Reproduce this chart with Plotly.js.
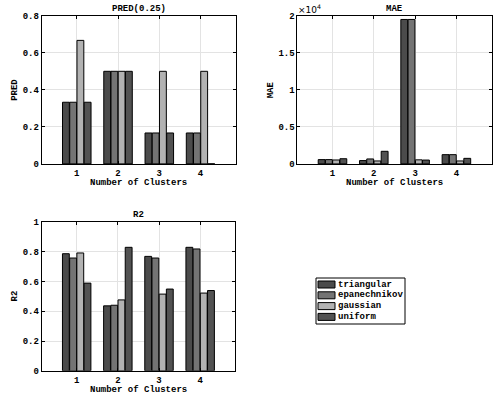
<!DOCTYPE html>
<html>
<head>
<meta charset="utf-8">
<script src="https://cdn.plot.ly/plotly-3.0.1.min.js"></script>
<style>html,body{margin:0;padding:0;background:#fff}#chart{width:494px;height:394px}</style>
</head>
<body>
<div id="chart"></div>
<script>
const clusters = [1, 2, 3, 4];
const seriesNames = ['triangular', 'epanechnikov', 'gaussian', 'uniform'];
const seriesColors = ['#4b4b4b', '#747474', '#b2b2b2', '#525252'];

const predTriangular = [0.333, 0.5, 0.167, 0.167];
const predEpanechnikov = [0.333, 0.5, 0.167, 0.167];
const predGaussian = [0.667, 0.5, 0.5, 0.5];
const predUniform = [0.333, 0.5, 0.167, 0];

const maeTriangular = [580, 450, 19500, 1250];
const maeEpanechnikov = [580, 670, 19500, 1250];
const maeGaussian = [530, 400, 550, 400];
const maeUniform = [700, 1700, 520, 750];

const r2Triangular = [0.788, 0.437, 0.770, 0.831];
const r2Epanechnikov = [0.759, 0.441, 0.759, 0.820];
const r2Gaussian = [0.793, 0.477, 0.516, 0.523];
const r2Uniform = [0.590, 0.831, 0.550, 0.540];

const xTicks = ['1', '2', '3', '4'];
const predTicks = [0, 0.2, 0.4, 0.6, 0.8];
const predTickText = ['0', '0.2', '0.4', '0.6', '0.8'];
const maeTicks = [0, 5000, 10000, 15000, 20000];
const maeTickText = ['0', '0.5', '1', '1.5', '2'];
const r2Ticks = [0, 0.2, 0.4, 0.6, 0.8, 1];
const r2TickText = ['0', '0.2', '0.4', '0.6', '0.8', '1'];

const FONT = 'Liberation Mono';
const FS = 9;

const predSeries = [predTriangular, predEpanechnikov, predGaussian, predUniform];
const maeSeries = [maeTriangular, maeEpanechnikov, maeGaussian, maeUniform];
const r2Series = [r2Triangular, r2Epanechnikov, r2Gaussian, r2Uniform];

const traces = [];
function addGroup(series, xa, ya) {
  series.forEach((vals, i) => {
    traces.push({
      type: 'bar', x: clusters, y: vals, name: seriesNames[i],
      xaxis: xa, yaxis: ya, showlegend: false,
      marker: {color: seriesColors[i], line: {color: '#000', width: 1}},
      hoverinfo: 'skip'
    });
  });
}
addGroup(predSeries, 'x', 'y');
addGroup(maeSeries, 'x2', 'y2');
addGroup(r2Series, 'x3', 'y3');

const tickFont = {family: FONT, size: FS, color: '#000', weight: 'bold'};
function xAxis(domain, anchor) {
  return {
    domain: domain, anchor: anchor, range: [0.15, 4.85],
    tickvals: clusters, ticktext: xTicks,
    ticks: 'inside', ticklen: 3, tickcolor: '#000', mirror: 'ticks',
    showline: true, linecolor: '#000', linewidth: 1,
    showgrid: true, gridcolor: '#e3e3e3', zeroline: false,
    tickfont: tickFont
  };
}
function yAxis(domain, anchor, range, tv, tt) {
  return {
    domain: domain, anchor: anchor, range: range,
    tickvals: tv, ticktext: tt,
    ticks: 'inside', ticklen: 3, tickcolor: '#000', mirror: 'ticks',
    showline: true, linecolor: '#000', linewidth: 1,
    showgrid: true, gridcolor: '#e3e3e3', zeroline: false,
    tickfont: tickFont
  };
}

const D1x = [0.0844, 0.477], D2x = [0.602, 0.995], D3x = [0.0844, 0.476];
const Dtop = [0.584, 0.960], Dbot = [0.059, 0.436];

function txt(text, x, y, opts) {
  return Object.assign({text: text, xref: 'paper', yref: 'paper', x: x, y: y,
    showarrow: false, font: {family: FONT, size: FS, color: '#000', weight: 'bold'}}, opts || {});
}
const W = 494, H = 394;
const px = v => v / W, py = v => 1 - v / H;

const annotations = [
  txt('PRED(0.25)', (D1x[0] + D1x[1]) / 2, Dtop[1], {xanchor: 'center', yanchor: 'bottom'}),
  txt('MAE', (D2x[0] + D2x[1]) / 2, Dtop[1], {xanchor: 'center', yanchor: 'bottom'}),
  txt('R2', (D3x[0] + D3x[1]) / 2, Dbot[1], {xanchor: 'center', yanchor: 'bottom'}),
  txt('×10<sup>4</sup>', D2x[0] - 0.002, Dtop[1] - 0.004, {xanchor: 'left', yanchor: 'bottom', font: {family: 'DejaVu Sans', size: 9, color: '#000'}}),
  txt('Number of Clusters', (D1x[0] + D1x[1]) / 2, py(183), {xanchor: 'center', yanchor: 'middle'}),
  txt('Number of Clusters', (D2x[0] + D2x[1]) / 2, py(183), {xanchor: 'center', yanchor: 'middle'}),
  txt('Number of Clusters', (D3x[0] + D3x[1]) / 2, py(390), {xanchor: 'center', yanchor: 'middle'}),
  txt('PRED', px(15), (Dtop[0] + Dtop[1]) / 2, {xanchor: 'center', yanchor: 'middle', textangle: -90}),
  txt('MAE', px(270.5), (Dtop[0] + Dtop[1]) / 2, {xanchor: 'center', yanchor: 'middle', textangle: -90}),
  txt('R2', px(15), (Dbot[0] + Dbot[1]) / 2, {xanchor: 'center', yanchor: 'middle', textangle: -90})
];

const shapes = [
  {type: 'rect', xref: 'paper', yref: 'paper', x0: px(316), x1: px(405), y0: py(324), y1: py(278),
   line: {color: '#000', width: 1}, fillcolor: '#fff', layer: 'above'}
];
const rowY = [284.5, 295.3, 306.1, 316.9];
seriesNames.forEach((name, i) => {
  shapes.push({type: 'rect', xref: 'paper', yref: 'paper', x0: px(318), x1: px(335),
    y0: py(rowY[i] + 3.5), y1: py(rowY[i] - 3.5),
    line: {color: '#000', width: 1}, fillcolor: seriesColors[i], layer: 'above'});
  annotations.push(txt(name, px(336), py(rowY[i]), {xanchor: 'left', yanchor: 'middle'}));
});

const layout = {
  width: W, height: H,
  margin: {l: 0, r: 0, t: 0, b: 0},
  paper_bgcolor: '#fff', plot_bgcolor: '#fff',
  barmode: 'group', bargap: 0.3, bargroupgap: 0.05,
  font: {family: FONT, color: '#000'},
  showlegend: false,
  xaxis: xAxis(D1x, 'y'),
  yaxis: yAxis(Dtop, 'x', [0, 0.8], predTicks, predTickText),
  xaxis2: xAxis(D2x, 'y2'),
  yaxis2: yAxis(Dtop, 'x2', [0, 20000], maeTicks, maeTickText),
  xaxis3: xAxis(D3x, 'y3'),
  yaxis3: yAxis(Dbot, 'x3', [0, 1], r2Ticks, r2TickText),
  annotations: annotations,
  shapes: shapes
};

Plotly.newPlot('chart', traces, layout, {displayModeBar: false, staticPlot: true});
</script>
</body>
</html>
